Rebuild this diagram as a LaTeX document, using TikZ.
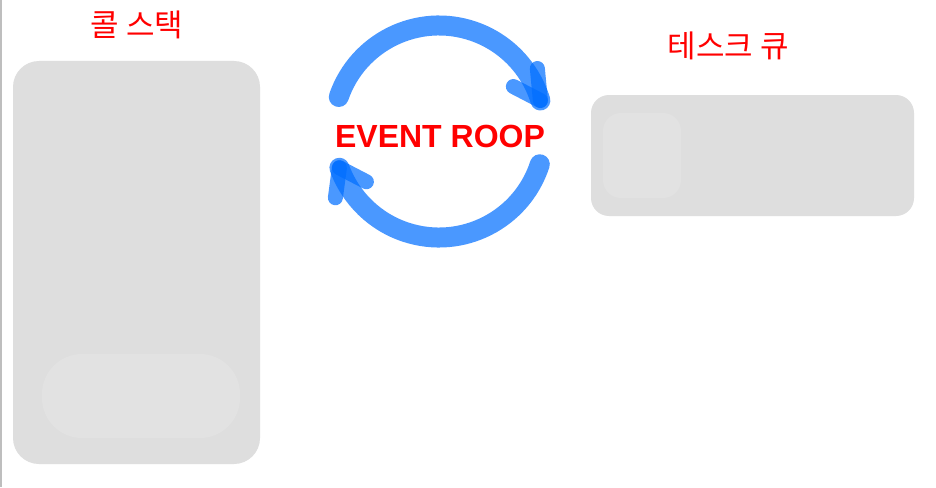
\documentclass[tikz,border=0pt]{standalone}
\usepackage{fontspec}
\setmainfont{Liberation Sans}
\newfontfamily\krfont{Noto Sans CJK KR}
\definecolor{boxgray}{RGB}{222,222,222}
\definecolor{innergray}{RGB}{226,226,226}
\definecolor{loopblue}{RGB}{0,110,255}
\definecolor{titlered}{RGB}{255,0,0}
\begin{document}
\begin{tikzpicture}[x=1pt,y=-1pt,
  panel/.style={fill=boxgray,draw=none},
  slot/.style={fill=innergray,draw=none},
  title/.style={text=titlered,font=\krfont\fontsize{31}{36}\selectfont,inner sep=0},
  looparc/.style={draw=loopblue,opacity=0.71,line width=20,line cap=round},
  barb/.style={draw=loopblue,opacity=0.71,line width=15,line cap=round}]
\useasboundingbox (0,0) rectangle (936,487);
\fill[white] (0,0) rectangle (936,487);
\draw[draw={rgb,255:red,190;green,190;blue,190},line width=1.5] (1,0) -- (1,487);
% call stack
\path[panel,rounded corners=26] (13,61) rectangle (260,464);
\path[slot,rounded corners=40] (42,354) rectangle (240,438);
\node[title] (cs) at (137,25) {콜 스택};
% task queue
\path[panel,rounded corners=18] (591,95) rectangle (914,216);
\path[slot,rounded corners=18] (603,113) rectangle (681,198);
\node[title] (tq) at (728,46) {테스크 큐};
% event loop
\coordinate (c) at (439,131.5);
\draw[looparc] (c) ++(-161:106) arc[start angle=-161,end angle=-17,radius=106] coordinate (tipA);
\draw[barb] (tipA) -- ++(-27,-14);
\draw[barb] (tipA) -- ++(-3,-32);
\draw[looparc] (c) ++(18:106) arc[start angle=18,end angle=160,radius=106] coordinate (tipB);
\draw[barb] (tipB) -- ++(27,14);
\draw[barb] (tipB) -- ++(-4,30);
\node[text=titlered,font=\bfseries\fontsize{32}{36}\selectfont,inner sep=0] (el) at (440,136) {EVENT ROOP};
\end{tikzpicture}
\end{document}
